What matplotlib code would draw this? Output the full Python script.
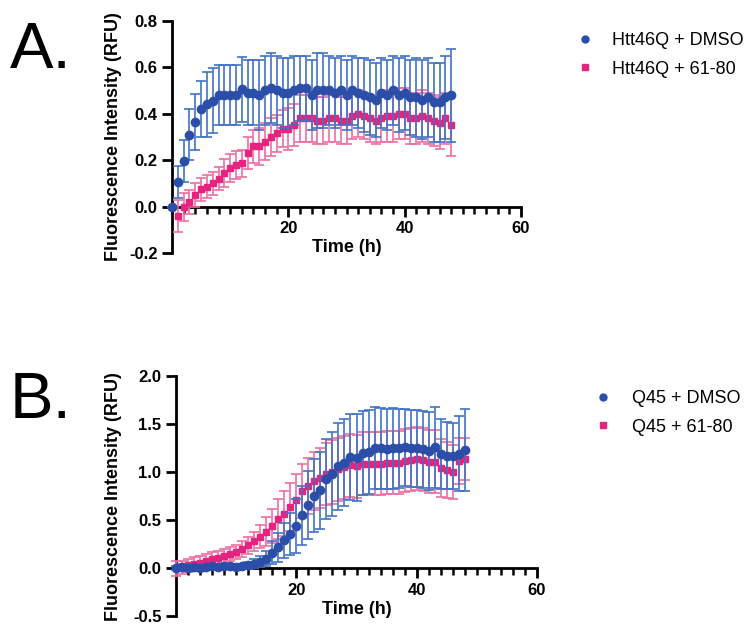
import matplotlib.pyplot as plt
from matplotlib.lines import Line2D
from matplotlib.ticker import MultipleLocator
import numpy as np

plt.rcParams['font.family'] = ['Liberation Sans', 'DejaVu Sans']

# time points (h)
hours = list(range(49))

# panel A: Htt46Q
htt_dmso = [0.00, 0.107, 0.198, 0.31, 0.363, 0.419, 0.44, 0.456, 0.48, 0.48,
            0.48, 0.48, 0.505, 0.49, 0.49, 0.48, 0.50, 0.51, 0.50, 0.49,
            0.49, 0.50, 0.51, 0.51, 0.48, 0.50, 0.50, 0.50, 0.49, 0.50,
            0.48, 0.50, 0.49, 0.48, 0.47, 0.46, 0.49, 0.48, 0.50, 0.48,
            0.49, 0.47, 0.47, 0.46, 0.47, 0.45, 0.45, 0.47, 0.48]
htt_dmso_sd = [0.0, 0.07, 0.09, 0.11, 0.12, 0.12, 0.14, 0.14, 0.13, 0.13,
               0.13, 0.13, 0.14, 0.14, 0.14, 0.15, 0.15, 0.15, 0.15, 0.15,
               0.15, 0.15, 0.14, 0.14, 0.15, 0.16, 0.16, 0.15, 0.15, 0.15,
               0.15, 0.15, 0.15, 0.16, 0.16, 0.16, 0.15, 0.15, 0.15, 0.16,
               0.16, 0.16, 0.17, 0.17, 0.17, 0.17, 0.17, 0.18, 0.20]
htt_pep = [0.0, -0.04, 0.0, 0.02, 0.05, 0.075, 0.086, 0.10, 0.12, 0.145,
           0.165, 0.18, 0.186, 0.23, 0.26, 0.26, 0.28, 0.30, 0.315, 0.335,
           0.335, 0.35, 0.38, 0.38, 0.38, 0.37, 0.37, 0.38, 0.38, 0.37,
           0.37, 0.39, 0.40, 0.39, 0.38, 0.37, 0.38, 0.39, 0.39, 0.40,
           0.40, 0.38, 0.38, 0.39, 0.38, 0.37, 0.36, 0.38, 0.35]
htt_pep_sd = [0.0, 0.07, 0.06, 0.05, 0.05, 0.05, 0.05, 0.05, 0.05, 0.06,
              0.06, 0.06, 0.06, 0.07, 0.07, 0.08, 0.08, 0.08, 0.08, 0.08,
              0.09, 0.09, 0.10, 0.10, 0.10, 0.10, 0.10, 0.10, 0.10, 0.10,
              0.10, 0.10, 0.10, 0.10, 0.10, 0.10, 0.10, 0.11, 0.11, 0.11,
              0.11, 0.11, 0.11, 0.11, 0.11, 0.11, 0.11, 0.11, 0.13]

# panel B: Q45
q45_dmso = [0.0, 0.01, 0.0, 0.01, 0.0, 0.01, 0.02, 0.01, 0.02, 0.02,
            0.01, 0.02, 0.03, 0.05, 0.07, 0.10, 0.16, 0.22, 0.29, 0.36,
            0.44, 0.55, 0.66, 0.755, 0.81, 0.93, 0.98, 1.06, 1.10, 1.16,
            1.15, 1.20, 1.21, 1.25, 1.25, 1.24, 1.25, 1.25, 1.26, 1.25,
            1.25, 1.24, 1.22, 1.26, 1.19, 1.17, 1.17, 1.19, 1.23]
q45_dmso_sd = [0.02, 0.03, 0.03, 0.03, 0.03, 0.03, 0.03, 0.03, 0.03, 0.03,
               0.03, 0.03, 0.04, 0.05, 0.06, 0.08, 0.12, 0.15, 0.18, 0.22,
               0.28, 0.31, 0.35, 0.38, 0.40, 0.42, 0.44, 0.45, 0.45, 0.45,
               0.45, 0.44, 0.44, 0.43, 0.42, 0.42, 0.42, 0.41, 0.40, 0.40,
               0.40, 0.40, 0.41, 0.42, 0.36, 0.35, 0.34, 0.39, 0.43]
q45_pep = [0.00, 0.01, 0.03, 0.05, 0.06, 0.08, 0.10, 0.11, 0.13, 0.15,
           0.17, 0.20, 0.24, 0.28, 0.33, 0.38, 0.44, 0.51, 0.57, 0.64,
           0.71, 0.80, 0.86, 0.91, 0.94, 0.98, 1.00, 1.03, 1.05, 1.07,
           1.06, 1.09, 1.09, 1.09, 1.09, 1.10, 1.10, 1.10, 1.12, 1.13,
           1.14, 1.13, 1.11, 1.11, 1.04, 1.02, 1.00, 1.12, 1.14]
q45_pep_sd = [0.08, 0.07, 0.07, 0.07, 0.07, 0.07, 0.07, 0.07, 0.07, 0.07,
              0.07, 0.08, 0.09, 0.10, 0.12, 0.15, 0.18, 0.21, 0.23, 0.25,
              0.27, 0.28, 0.29, 0.30, 0.31, 0.32, 0.33, 0.33, 0.33, 0.33,
              0.33, 0.33, 0.33, 0.33, 0.33, 0.33, 0.33, 0.33, 0.33, 0.33,
              0.33, 0.33, 0.33, 0.33, 0.30, 0.29, 0.28, 0.24, 0.22]

labels_a = ['Htt46Q + DMSO', 'Htt46Q + 61-80']
labels_b = ['Q45 + DMSO', 'Q45 + 61-80']

blue = '#2b4ea8'
blue_err = '#4272c4'
pink = '#e6247f'
pink_err = '#ec6ea3'

W, H = 752, 635
fig = plt.figure(figsize=(W / 100, H / 100), dpi=100)


def px_rect(x0, x1, ytop, ybot):
    return [x0 / W, 1 - ybot / H, (x1 - x0) / W, (ybot - ytop) / H]


def panel(ax, dmso, dmso_sd, pep, pep_sd, ylim, ystep):
    ax.errorbar(hours, pep, yerr=pep_sd, fmt='s', ms=5, color=pink,
                ecolor=pink_err, elinewidth=1.2, capsize=3.5, capthick=1.2,
                clip_on=False, zorder=3)
    ax.errorbar(hours, dmso, yerr=dmso_sd, fmt='o', ms=6, color=blue,
                ecolor=blue_err, elinewidth=1.2, capsize=3.5, capthick=1.2,
                clip_on=False, zorder=4)
    ax.set_xlim(0, 60)
    ax.set_ylim(*ylim)
    ax.spines['top'].set_visible(False)
    ax.spines['right'].set_visible(False)
    ax.spines['bottom'].set_position(('data', 0))
    for s in ['left', 'bottom']:
        ax.spines[s].set_linewidth(2)
    ax.set_xticks([20, 40, 60])
    ax.xaxis.set_minor_locator(MultipleLocator(2))
    ax.yaxis.set_major_locator(MultipleLocator(ystep))
    ax.yaxis.set_major_formatter(plt.FormatStrFormatter('%.1f'))
    ax.tick_params(axis='both', which='major', direction='out', length=7,
                   width=2, labelsize=12)
    ax.tick_params(axis='x', which='minor', direction='out', length=5, width=1.8)
    for t in ax.get_xticklabels() + ax.get_yticklabels():
        t.set_fontweight('bold')
    ax.set_xlabel('Time (h)', fontsize=13, fontweight='bold', labelpad=2)
    ax.set_ylabel('Fluorescence Intensity (RFU)', fontsize=13, fontweight='bold')


ax_a = fig.add_axes(px_rect(172, 521, 20.7, 253.2))
panel(ax_a, htt_dmso, htt_dmso_sd, htt_pep, htt_pep_sd, (-0.2, 0.8), 0.2)
ax_a.yaxis.set_label_coords((122 - 172) / 349, 0.5)

ax_b = fig.add_axes(px_rect(176, 537, 376, 616.4))
panel(ax_b, q45_dmso, q45_dmso_sd, q45_pep, q45_pep_sd, (-0.5, 2.0), 0.5)
ax_b.yaxis.set_label_coords((122 - 176) / 361, 0.5)


def add_legend(labels, left, top, pad):
    handles = [Line2D([], [], ls='none', marker='o', ms=5, color=blue),
               Line2D([], [], ls='none', marker='s', ms=4.5, color=pink)]
    fig.legend(handles, labels, loc='upper left',
               bbox_to_anchor=(left / W, 1 - top / H), frameon=False,
               fontsize=13, handlelength=1.0, handletextpad=pad,
               labelspacing=0.65, borderpad=0, borderaxespad=0)


add_legend(labels_a, 576, 32, 1.0)
add_legend(labels_b, 594, 390, 1.1)

fig.text(10 / W, 1 - 68 / H, 'A.', fontsize=47, va='baseline', ha='left')
fig.text(10 / W, 1 - 418 / H, 'B.', fontsize=47, va='baseline', ha='left')

fig.savefig('out.png', dpi=100)
